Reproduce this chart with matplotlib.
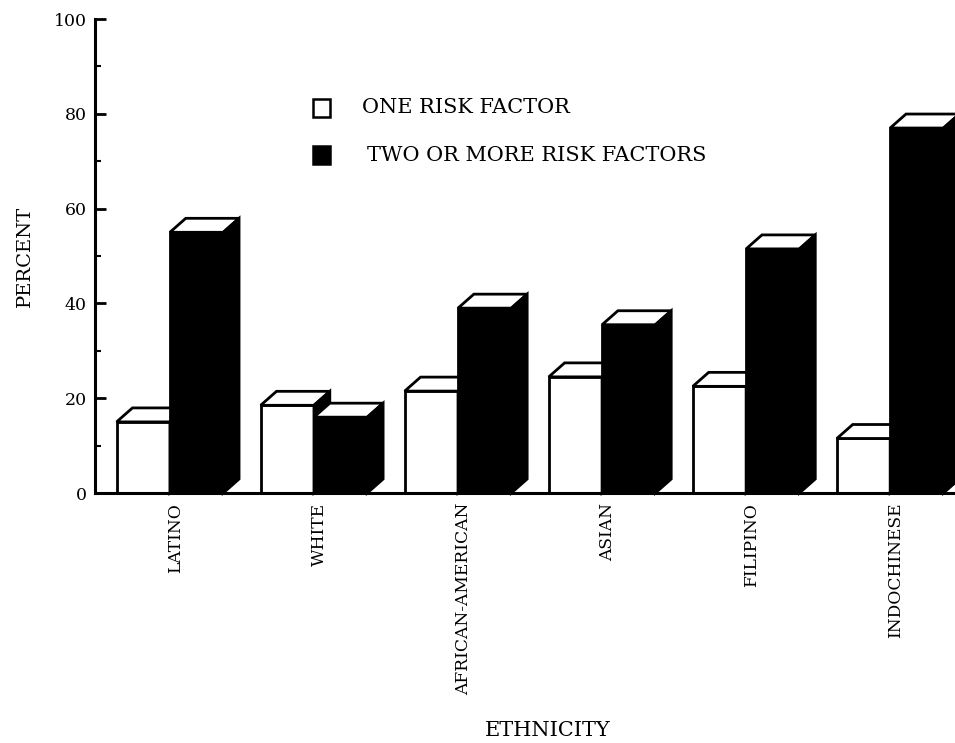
import matplotlib.pyplot as plt
from matplotlib.patches import Polygon, Rectangle

# data
ethnicity = ['LATINO', 'WHITE', 'AFRICAN-AMERICAN', 'ASIAN', 'FILIPINO', 'INDOCHINESE']
one_risk = [15, 18.5, 21.5, 24.5, 22.5, 11.5]
two_plus = [55, 16, 39, 35.5, 51.5, 77]

plt.rcParams['font.family'] = ['DejaVu Serif']

fig = plt.figure(figsize=(9.55, 7.43), dpi=100, facecolor='white')
ax = fig.add_axes([95 / 955, 250 / 743, 860 / 955, 474 / 743])

w = 0.37     # bar width
dx = 0.11    # depth, x
dy = 2.95    # depth, y
lw = 2.0


def bar3d(x0, h, face):
    # front face
    ax.add_patch(Rectangle((x0, 0), w, h, facecolor=face, edgecolor='black',
                           linewidth=lw, joinstyle='miter', clip_on=False))
    # top face
    ax.add_patch(Polygon([(x0, h), (x0 + dx, h + dy), (x0 + w + dx, h + dy), (x0 + w, h)],
                         closed=True, facecolor='white', edgecolor='black',
                         linewidth=lw, joinstyle='miter', clip_on=False))
    # side face
    ax.add_patch(Polygon([(x0 + w, 0), (x0 + w + dx, dy), (x0 + w + dx, h + dy), (x0 + w, h)],
                         closed=True, facecolor='black', edgecolor='black',
                         linewidth=lw, joinstyle='miter', clip_on=False))


for i in range(len(ethnicity)):
    bar3d(i - w, one_risk[i], 'white')
    bar3d(i, two_plus[i], 'black')

ax.set_xlim(-0.52, 5.45)
ax.set_ylim(0, 100)

ax.spines['top'].set_visible(False)
ax.spines['right'].set_visible(False)
ax.spines['left'].set_linewidth(2.2)
ax.spines['bottom'].set_linewidth(2.2)

ax.set_yticks([0, 20, 40, 60, 80, 100])
ax.set_yticks([10, 30, 50, 70, 90], minor=True)
ax.tick_params(axis='y', which='major', direction='in', length=8, width=2, labelsize=12.5, pad=6)
ax.tick_params(axis='y', which='minor', direction='in', length=4, width=1.5)

ax.set_xticks([i + 0.04 for i in range(len(ethnicity))])
ax.set_xticklabels(ethnicity, rotation=90, fontsize=12.3)
ax.tick_params(axis='x', length=0, pad=7)

fig.text(25 / 955, 1 - 256 / 743, 'PERCENT', fontsize=14, rotation=90, ha='center', va='center')
fig.text(548 / 955, 1 - 730 / 743, 'ETHNICITY', fontsize=15, ha='center', va='center')

# legend
ax.add_patch(Rectangle((0.254, 0.793), 0.019, 0.038, transform=ax.transAxes,
                       facecolor='white', edgecolor='black', linewidth=1.8))
ax.add_patch(Rectangle((0.254, 0.694), 0.019, 0.038, transform=ax.transAxes,
                       facecolor='black', edgecolor='black', linewidth=1.8))
ax.text(0.31, 0.814, 'ONE RISK FACTOR', transform=ax.transAxes, fontsize=15, va='center')
ax.text(0.316, 0.713, 'TWO OR MORE RISK FACTORS', transform=ax.transAxes, fontsize=15, va='center')

plt.savefig('out.png', dpi=100, facecolor='white')
